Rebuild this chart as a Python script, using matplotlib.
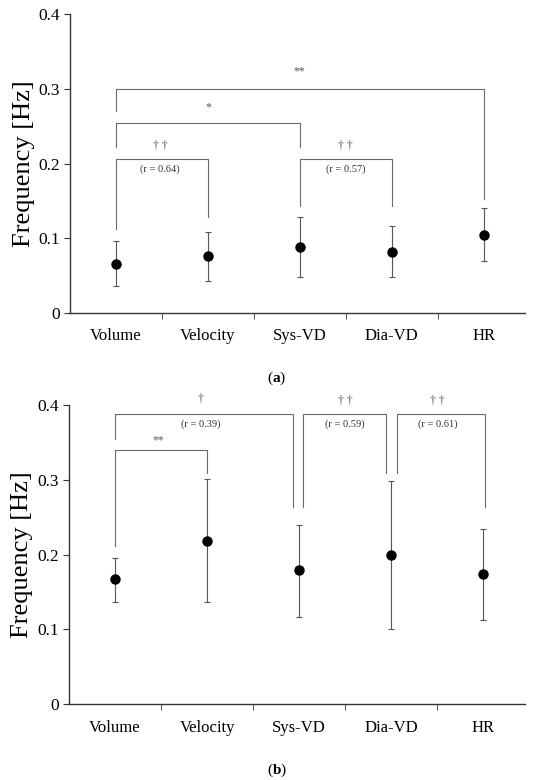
import matplotlib
matplotlib.use('Agg')
import matplotlib.pyplot as plt
import numpy as np

plt.rcParams['font.family'] = ['Liberation Serif', 'DejaVu Serif']
plt.rcParams['mathtext.fontset'] = 'custom'
plt.rcParams['mathtext.bf'] = 'Liberation Serif:bold'

categories = ['Volume', 'Velocity', 'Sys-VD', 'Dia-VD', 'HR']
yticks = [0, 0.1, 0.2, 0.3, 0.4]
ytick_labels = ['0', '0.1', '0.2', '0.3', '0.4']

# panel (a) mean, lower and upper end of the error bar
mean_a = [0.066, 0.076, 0.088, 0.082, 0.105]
low_a = [0.036, 0.043, 0.048, 0.048, 0.069]
high_a = [0.096, 0.109, 0.129, 0.117, 0.140]

# panel (b)
mean_b = [0.167, 0.218, 0.180, 0.199, 0.174]
low_b = [0.137, 0.137, 0.117, 0.101, 0.112]
high_b = [0.195, 0.301, 0.239, 0.298, 0.234]

# brackets: x left, x right, y top, y end left leg, y end right leg, mark, r text, mark x, mark y
brackets_a = [
    (0, 4, 0.300, 0.271, 0.153, '**', None, 2.0, 0.316),
    (0, 2, 0.255, 0.222, 0.222, '*', None, 1.0, 0.268),
    (0, 1, 0.206, 0.113, 0.129, '\u2020 \u2020', '(r = 0.64)', 0.48, 0.216),
    (2, 3, 0.206, 0.143, 0.143, '\u2020 \u2020', '(r = 0.57)', 2.5, 0.216),
]
brackets_b = [
    (0, 1.93, 0.3875, 0.355, 0.264, '\u2020', '(r = 0.39)', 0.93, 0.401),
    (0, 1, 0.340, 0.211, 0.309, '**', None, 0.47, 0.345),
    (2.04, 2.94, 0.3875, 0.264, 0.309, '\u2020 \u2020', '(r = 0.59)', 2.5, 0.398),
    (3.06, 4.02, 0.3875, 0.309, 0.264, '\u2020 \u2020', '(r = 0.61)', 3.5, 0.398),
]


def draw_panel(ax, mean, low, high, brackets):
    x = np.arange(len(categories))
    mean = np.array(mean)
    err = [mean - np.array(low), np.array(high) - mean]
    ax.errorbar(x, mean, yerr=err, fmt='o', color='black', ms=6.5,
                ecolor='#555555', elinewidth=0.8, capsize=2.5, capthick=0.8)
    for x1, x2, y, yl, yr, mark, rtxt, mx, my in brackets:
        ax.plot([x1, x1, x2, x2], [yl, y, y, yr], color='#6a6a6a', lw=0.8,
                clip_on=False)
        ax.text(mx, my, mark, ha='center', va='bottom', fontsize=8.5,
                color='#555555')
        if rtxt:
            ax.text(mx, y - 0.007, rtxt, ha='center', va='top', fontsize=7.5,
                    color='#333333')
    ax.set_xlim(-0.5, 4.45)
    ax.set_ylim(0, 0.4)
    ax.set_yticks(yticks)
    ax.set_yticklabels(ytick_labels, fontsize=12.5)
    ax.set_xticks(x)
    ax.set_xticklabels(categories, fontsize=12)
    ax.set_xticks(x[:-1] + 0.5, minor=True)
    ax.tick_params(axis='x', which='major', length=0, pad=11)
    ax.tick_params(axis='x', which='minor', length=4, direction='out', color='#333333')
    ax.tick_params(axis='y', length=4, direction='out', color='#333333', pad=3)
    for s in ['top', 'right']:
        ax.spines[s].set_visible(False)
    for s in ['left', 'bottom']:
        ax.spines[s].set_color('#333333')
        ax.spines[s].set_linewidth(1.0)
    ax.set_ylabel('Frequency [Hz]', fontsize=19, labelpad=3)


fig = plt.figure(figsize=(5.56, 7.80), dpi=100)
ax_a = fig.add_axes([0.126, 0.5987, 0.818, 0.383])
ax_b = fig.add_axes([0.124, 0.097, 0.820, 0.384])

draw_panel(ax_a, mean_a, low_a, high_a, brackets_a)
draw_panel(ax_b, mean_b, low_b, high_b, brackets_b)

fig.text(0.498, 1 - 378 / 780, r'($\mathbf{a}$)', ha='center', va='center', fontsize=11)
fig.text(0.498, 1 - 770 / 780, r'($\mathbf{b}$)', ha='center', va='center', fontsize=11)

fig.savefig('out.png', dpi=100)
